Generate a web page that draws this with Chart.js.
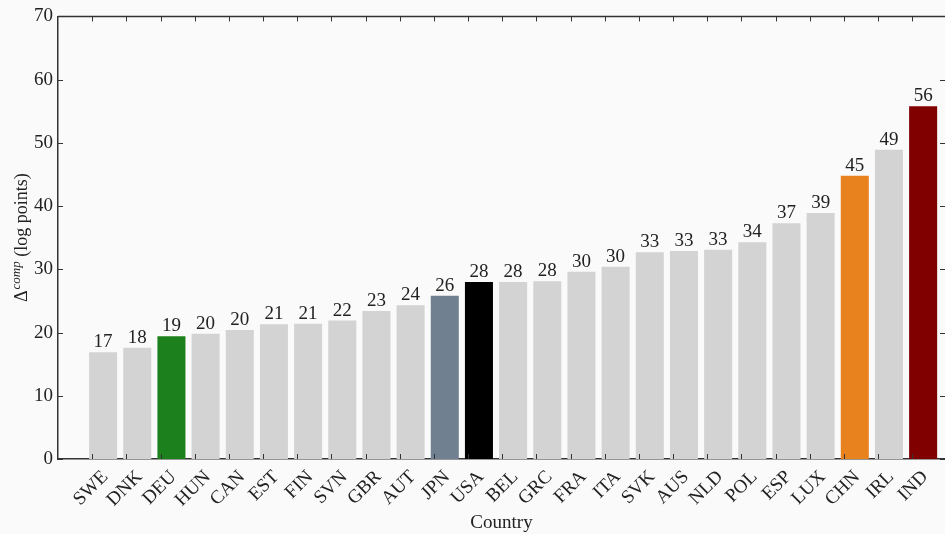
<!DOCTYPE html>
<html>
<head>
<meta charset="utf-8">
<script src="https://cdn.jsdelivr.net/npm/chart.js@4/dist/chart.umd.min.js"></script>
<style>
	html, body { margin: 0; padding: 0; background: #fafafa; }
	#wrap { width: 945px; height: 534px; }
</style>
</head>
<body>
<div id="wrap"><canvas id="chart"></canvas></div>
<script>
// countries sorted by gap
const countries = ['SWE', 'DNK', 'DEU', 'HUN', 'CAN', 'EST', 'FIN', 'SVN', 'GBR', 'AUT', 'JPN', 'USA', 'BEL',
	'GRC', 'FRA', 'ITA', 'SVK', 'AUS', 'NLD', 'POL', 'ESP', 'LUX', 'CHN', 'IRL', 'IND'];
const gapValues = [16.9, 17.6, 19.4, 19.8, 20.4, 21.3, 21.4, 21.9, 23.4, 24.3, 25.8, 28.0, 28.0,
	28.1, 29.6, 30.4, 32.7, 32.9, 33.1, 34.3, 37.3, 38.9, 44.8, 48.9, 55.8];
const yTicks = [0, 10, 20, 30, 40, 50, 60, 70];

const highlight = {
	DEU: '#1c801c',
	JPN: '#708090',
	USA: '#000000',
	CHN: '#e8821e',
	IND: '#800000',
};
const barShift = 0.32;
const font = "'Liberation Serif', 'DejaVu Serif', serif";
const ink = '#222';
const spine = '#333';

let bars = countries.map((c, i) => ({x: i + barShift, y: gapValues[i]}));
let colors = countries.map(c => highlight[c] || '#d3d3d3');

const ticksPlugin = {
	id: 'ticks',
	afterDraw(chart) {
		let ctx = chart.ctx;
		let a = chart.chartArea;
		let xs = chart.scales.x;
		let ys = chart.scales.y;
		let len = 5;
		ctx.save();
		ctx.strokeStyle = spine;
		ctx.lineWidth = 1.5;
		ctx.beginPath();
		ctx.moveTo(a.left, a.top);
		ctx.lineTo(a.right, a.top);
		ctx.stroke();
		ctx.lineWidth = 1;
		ctx.beginPath();
		for(let i = 0; i < countries.length; i++)
		{
			let px = Math.round(xs.getPixelForValue(i)) + 0.5;
			ctx.moveTo(px, a.bottom);
			ctx.lineTo(px, a.bottom - len);
			ctx.moveTo(px, a.top);
			ctx.lineTo(px, a.top + len);
		}
		for(const v of yTicks)
		{
			let py = Math.round(ys.getPixelForValue(v)) + 0.5;
			ctx.moveTo(a.left, py);
			ctx.lineTo(a.left + len, py);
			ctx.moveTo(a.right, py);
			ctx.lineTo(a.right - len, py);
		}
		ctx.stroke();

		// y title with superscript
		let cy = (a.top + a.bottom) / 2;
		ctx.translate(21, cy);
		ctx.rotate(-Math.PI / 2);
		ctx.fillStyle = ink;
		ctx.textBaseline = 'alphabetic';
		let big = '18px ' + font;
		let small = 'italic 13px ' + font;
		ctx.font = big;
		let w1 = ctx.measureText('\u0394').width;
		let w3 = ctx.measureText(' (log points)').width;
		ctx.font = small;
		let w2 = ctx.measureText('comp').width + 1;
		let x0 = -(w1 + w2 + w3) / 2;
		ctx.font = big;
		ctx.fillText('\u0394', x0, 6);
		ctx.font = small;
		ctx.fillText('comp', x0 + w1 + 1, -1);
		ctx.font = big;
		ctx.fillText(' (log points)', x0 + w1 + w2, 6);
		ctx.restore();
	}
};

const valueLabels = {
	id: 'valueLabels',
	afterDatasetsDraw(chart) {
		let ctx = chart.ctx;
		let meta = chart.getDatasetMeta(0);
		ctx.save();
		ctx.fillStyle = ink;
		ctx.font = '19px ' + font;
		ctx.textAlign = 'center';
		ctx.textBaseline = 'alphabetic';
		meta.data.forEach((bar, i) => {
			ctx.fillText(String(Math.round(gapValues[i])), bar.x, bar.y - 5);
		});
		ctx.restore();
	}
};

new Chart(document.getElementById('chart'), {
	type: 'bar',
	data: {
		datasets: [{
			data: bars,
			backgroundColor: colors,
			borderWidth: 0,
			categoryPercentage: 1,
			barPercentage: 0.82,
		}],
	},
	options: {
		responsive: true,
		maintainAspectRatio: false,
		animation: false,
		layout: {padding: {top: 14, right: 0, bottom: 0, left: 0}},
		plugins: {
			legend: {display: false},
			tooltip: {enabled: false},
		},
		scales: {
			x: {
				type: 'linear',
				offset: false,
				min: -1,
				max: 24.96,
				grid: {display: false, drawTicks: false},
				border: {display: true, color: spine, width: 1.5},
				afterFit: s => { s.height = 75; },
				ticks: {
					stepSize: 1,
					includeBounds: false,
					autoSkip: false,
					minRotation: 45,
					maxRotation: 45,
					labelOffset: 13,
					padding: 7,
					color: ink,
					font: {family: font, size: 19},
					callback: v => countries[v] || '',
				},
				title: {
					display: true,
					text: 'Country',
					color: ink,
					font: {family: font, size: 19},
					padding: {top: 0, bottom: 0},
				},
			},
			y: {
				min: 0,
				max: 70,
				grid: {display: false, drawTicks: false},
				border: {display: true, color: spine, width: 1.5},
				afterFit: s => { s.width = 58; },
				ticks: {
					stepSize: 10,
					padding: 5,
					color: ink,
					font: {family: font, size: 19},
				},
			},
		},
	},
	plugins: [ticksPlugin, valueLabels],
});
</script>
</body>
</html>
